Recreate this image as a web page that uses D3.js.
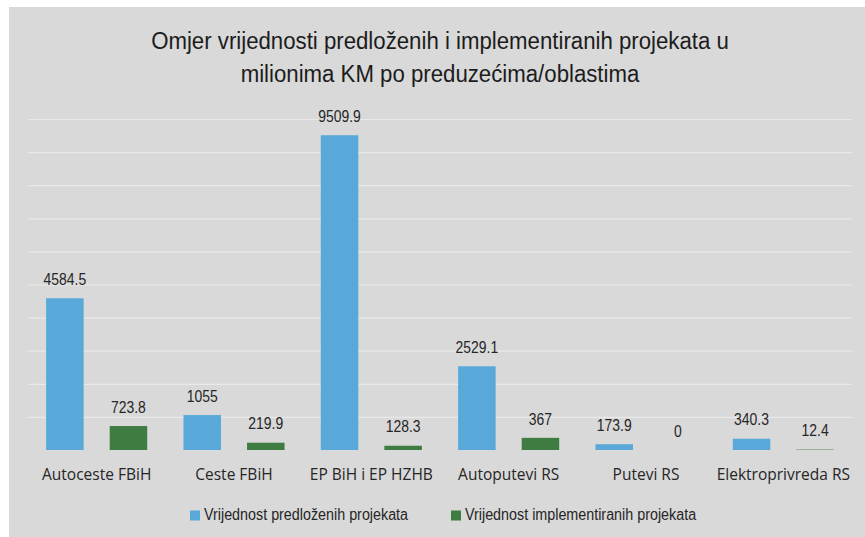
<!DOCTYPE html>
<html>
<head>
<meta charset="utf-8">
<script src="https://cdn.jsdelivr.net/npm/d3@7"></script>
<style>
  body { margin: 0; background: #fff; }
  svg { display: block; }
</style>
</head>
<body>
<div id="chart"></div>
<script>
// chart data
const categories = ['Autoceste FBiH', 'Ceste FBiH', 'EP BiH i EP HZHB', 'Autoputevi RS', 'Putevi RS', 'Elektroprivreda RS'];
const seriesNames = ['Vrijednost predloženih projekata', 'Vrijednost implementiranih projekata'];
const proposed = [4584.5, 1055, 9509.9, 2529.1, 173.9, 340.3];
const implemented = [723.8, 219.9, 128.3, 367, 0, 12.4];
const gridTicks = [1000, 2000, 3000, 4000, 5000, 6000, 7000, 8000, 9000, 10000];
const titleLines = ['Omjer vrijednosti predloženih i implementiranih projekata u', 'milionima KM po preduzećima/oblastima'];

const width = 865, height = 537;
const plot = { left: 28, right: 852, top: 119, bottom: 450 };
const colors = ['#58a9d9', '#3f7c41'];
const narrow = '"Liberation Sans", Arial, sans-serif';

// squeeze text horizontally to imitate the narrow face of the original
function condense(sel, factor) {
  sel.each(function() {
    const w = this.getComputedTextLength();
    d3.select(this)
      .attr('textLength', w * factor)
      .attr('lengthAdjust', 'spacingAndGlyphs');
  });
}

const svg = d3.select('#chart').append('svg')
  .attr('width', width)
  .attr('height', height);

// panel background
svg.append('rect')
  .attr('x', 9).attr('y', 7)
  .attr('width', width - 9).attr('height', height - 7)
  .attr('fill', '#d9d9d9');

const x0 = d3.scaleBand()
  .domain(categories)
  .range([plot.left, plot.right])
  .paddingInner(0)
  .paddingOuter(0);

const x1 = d3.scaleBand()
  .domain(seriesNames)
  .range([0, x0.bandwidth()])
  .paddingInner(0.41)
  .paddingOuter(0.285);

const y = d3.scaleLinear()
  .domain([0, 10000])
  .range([plot.bottom, plot.top]);

// gridlines
const grid = svg.append('g')
  .attr('transform', `translate(${plot.left},0)`)
  .call(d3.axisLeft(y).tickValues(gridTicks).tickSize(-(plot.right - plot.left)).tickFormat(''));
grid.select('.domain').remove();
grid.selectAll('.tick line').attr('stroke', '#e9e9e9').attr('stroke-width', 1.2);

// title
svg.append('g').selectAll('text')
  .data(titleLines)
  .join('text')
  .attr('x', 440)
  .attr('y', (d, i) => 48.5 + i * 33)
  .attr('text-anchor', 'middle')
  .attr('font-family', narrow)
  .attr('font-size', 23.5)
  .attr('fill', '#1c1c1c')
  .text(d => d)
  .call(condense, 0.945);

const rows = categories.map((c, i) => ({ cat: c, values: [proposed[i], implemented[i]] }));

const groups = svg.append('g').selectAll('g')
  .data(rows)
  .join('g')
  .attr('transform', d => `translate(${x0(d.cat)},0)`);

const bars = groups.selectAll('g')
  .data(d => d.values.map((v, k) => ({ key: seriesNames[k], k, v })))
  .join('g');

bars.append('rect')
  .attr('x', d => x1(d.key))
  .attr('y', d => y(d.v))
  .attr('width', x1.bandwidth())
  .attr('height', d => y(0) - y(d.v))
  .attr('fill', d => colors[d.k]);

// value labels
bars.append('text')
  .attr('x', d => x1(d.key) + x1.bandwidth() / 2)
  .attr('y', d => y(d.v) - 13.3)
  .attr('text-anchor', 'middle')
  .attr('font-family', narrow)
  .attr('font-size', 16)
  .attr('fill', '#262626')
  .text(d => String(d.v))
  .call(condense, 0.87);

// category axis
const xAxis = svg.append('g')
  .attr('transform', `translate(0,${plot.bottom})`)
  .call(d3.axisBottom(x0).tickSize(0).tickPadding(0));
xAxis.select('.domain').remove();
xAxis.selectAll('text')
  .attr('y', 30)
  .attr('dy', 0)
  .attr('font-family', '"Open Sans", sans-serif')
  .attr('font-size', 15.5)
  .attr('fill', '#262626');

// legend
const legendX = [190, 451];
const legend = svg.append('g').selectAll('g')
  .data(seriesNames)
  .join('g')
  .attr('transform', (d, i) => `translate(${legendX[i]},510.5)`);
legend.append('rect')
  .attr('width', 10).attr('height', 10)
  .attr('fill', (d, i) => colors[i]);
legend.append('text')
  .attr('x', 14)
  .attr('y', 9.5)
  .attr('font-family', narrow)
  .attr('font-size', 16)
  .attr('fill', '#262626')
  .text(d => d)
  .call(condense, 0.895);
</script>
</body>
</html>
